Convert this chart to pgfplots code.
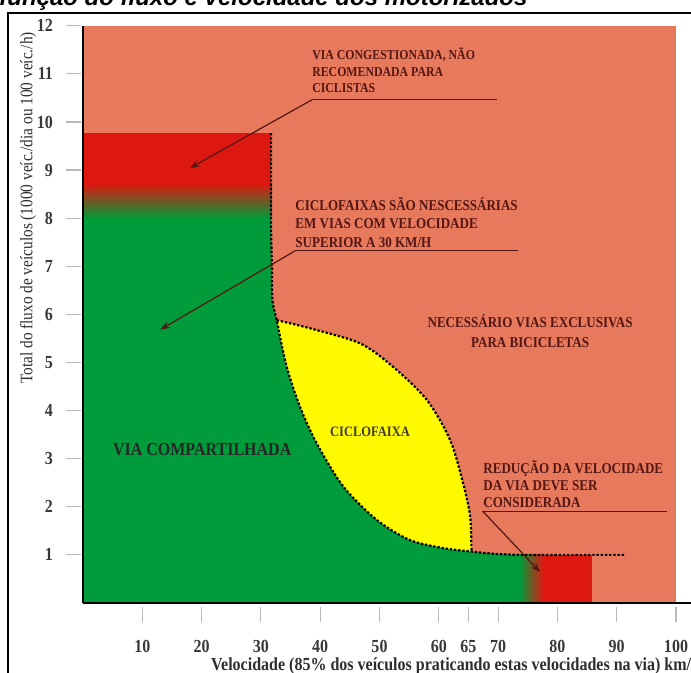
\documentclass[border=0pt]{standalone}
\usepackage{fontspec}
\setmainfont{Liberation Serif}[FakeStretch=0.87]
\newfontfamily\titlefont{Liberation Sans}
\usepackage{pgfplots}
\pgfplotsset{compat=1.18}
\usetikzlibrary{arrows.meta}

\definecolor{salmon}{RGB}{231,121,92}
\definecolor{vred}{RGB}{221,24,16}
\definecolor{vgreen}{RGB}{0,155,58}
\definecolor{vyellow}{RGB}{255,250,0}
\definecolor{txt}{RGB}{85,22,20}

\tikzset{
  note/.style={font=\bfseries\fontsize{7.5}{9}\selectfont, text=txt, inner sep=0pt, anchor=base west},
  smallnote/.style={note, font=\bfseries\fontsize{6.8}{8}\selectfont},
  pointer/.style={draw=txt, line width=0.6pt, -{Stealth[length=5pt,width=3.5pt]}},
  rule/.style={draw=txt, line width=0.6pt},
  border/.style={black, line width=1.1pt, dash pattern=on 1.2pt off 0.9pt},
}

\begin{document}
\begin{tikzpicture}
\begin{axis}[
  x=2.965pt, y=24.05pt,
  anchor=origin, at={(0,0)},
  xmin=0, xmax=102.5, ymin=0, ymax=12,
  axis x line=bottom, axis y line=left,
  axis line style={-, black, line width=0.9pt},
  axis on top,
  clip=false,
  xtick={10,20,30,40,50,60,65,70,80,90,100},
  ytick={1,2,...,12},
  tick align=outside,
  major tick length=7.5pt,
  tick style={gray!55, line width=0.6pt},
  every x tick/.append style={yshift=-2pt},
  every y tick/.append style={xshift=-1pt},
  /pgf/number format/assume math mode=true,
  ticklabel style={font=\bfseries\fontsize{9.2}{9.2}\selectfont, text=black!78},
  xticklabel style={yshift=-7.5pt},
  yticklabel style={xshift=-4pt},
  xlabel={Velocidade (85\% dos veículos praticando estas velocidades na via) km/h},
  ylabel={Total do fluxo de veículos (1000 veíc./dia ou 100 veíc./h)},
  every axis x label/.style={at={(rel axis cs:0,0)}, anchor=west, xshift=60.5pt, yshift=-31.5pt,
    font=\bfseries\fontsize{9.2}{9.2}\selectfont, text=black!82},
  every axis y label/.style={at={(rel axis cs:0,0)}, xshift=-27.5pt, yshift=197.5pt, rotate=90, anchor=center,
    font=\fontsize{8.8}{8.8}\selectfont, text=black!82},
]
% fundo
\addplot[fill=salmon, draw=none] coordinates {(0,0) (100,0) (100,12) (0,12)} -- cycle;
% ciclofaixa
\addplot[fill=vyellow, draw=none, smooth] coordinates {
  (32.66,5.88) (38.3,5.71) (46.7,5.40) (52.3,4.91) (58.0,4.22)
  (61.9,3.39) (64.1,2.49) (65.3,1.79) (65.5,1.10)} \closedcycle;
% via compartilhada
\addplot[fill=vgreen, draw=none] coordinates {(0,0) (31.75,0) (31.75,8.0) (0,8.0)} -- cycle;
\addplot[fill=vgreen, draw=none, smooth] coordinates {
  (31.7,8.0) (31.72,7.75) (31.85,7.03) (31.95,6.30) (32.66,5.88) (34.35,4.91)
  (36.59,4.08) (39.4,3.32) (43.9,2.42) (49.5,1.73) (55.1,1.31)
  (60.8,1.14) (65.5,1.07) (68.6,1.03) (73.7,1.0)} \closedcycle;
% congestionado
\addplot[draw=none, top color=vred, bottom color=vgreen] coordinates {(0,8.0) (31.75,8.0) (31.75,8.72) (0,8.72)} -- cycle;
\addplot[fill=vred, draw=none] coordinates {(0,8.7) (31.75,8.7) (31.75,9.77) (0,9.77)} -- cycle;
% reducao de velocidade
\addplot[draw=none, left color=vgreen, right color=vred] coordinates {(73.6,0) (77.6,0) (77.6,1.0) (73.6,1.0)} -- cycle;
\addplot[fill=vred, draw=none] coordinates {(77.5,0) (85.8,0) (85.8,1.0) (77.5,1.0)} -- cycle;
% limites pontilhados
\addplot[border, smooth] coordinates {
  (31.7,9.77) (31.7,8.8) (31.72,7.75) (31.85,7.03) (31.95,6.30) (32.66,5.88) (34.35,4.91)
  (36.59,4.08) (39.4,3.32) (43.9,2.42) (49.5,1.73) (55.1,1.31)
  (60.8,1.14) (65.5,1.07) (68.6,1.03) (73.7,1.0) (82,1.0) (91.4,1.0)};
\addplot[border, smooth] coordinates {
  (32.66,5.88) (38.3,5.71) (46.7,5.40) (52.3,4.91) (58.0,4.22)
  (61.9,3.39) (64.1,2.49) (65.3,1.79) (65.5,1.07)};

% notas
\node[smallnote] at (axis cs:38.6,11.30) {VIA CONGESTIONADA, NÃO};
\node[smallnote] at (axis cs:38.6,10.95) {RECOMENDADA PARA};
\node[smallnote] at (axis cs:38.6,10.62) {CICLISTAS};
\draw[rule] (axis cs:38.6,10.46) -- (axis cs:69.8,10.46);
\draw[pointer] (axis cs:38.6,10.46) -- (axis cs:18.0,9.04);

\node[note] at (axis cs:35.75,8.15) {CICLOFAIXAS SÃO NESCESSÁRIAS};
\node[note] at (axis cs:35.75,7.78) {EM VIAS COM VELOCIDADE};
\node[note] at (axis cs:35.75,7.40) {SUPERIOR A 30 KM/H};
\draw[rule] (axis cs:35.75,7.32) -- (axis cs:73.4,7.32);
\draw[pointer] (axis cs:35.75,7.32) -- (axis cs:13.0,5.68);

\node[note, anchor=base] at (axis cs:75.4,5.72) {NECESSÁRIO VIAS EXCLUSIVAS};
\node[note, anchor=base] at (axis cs:75.4,5.32) {PARA BICICLETAS};

\node[font=\bfseries\fontsize{7.2}{8}\selectfont, text=black!80!yellow!60!black] at (axis cs:48.4,3.56) {CICLOFAIXA};
\node[font=\bfseries\fontsize{9.2}{10}\selectfont, text=black!85] at (axis cs:20.1,3.18) {VIA COMPARTILHADA};

\node[note] at (axis cs:67.45,2.70) {REDUÇÃO DA VELOCIDADE};
\node[note] at (axis cs:67.45,2.33) {DA VIA DEVE SER};
\node[note] at (axis cs:67.45,1.98) {CONSIDERADA};
\draw[rule] (axis cs:67.3,1.91) -- (axis cs:98.5,1.91);
\draw[pointer] (axis cs:67.4,1.91) -- (axis cs:77.1,0.64);
\end{axis}
\draw[line width=1.1pt] (-37.5pt,-40pt) -- (-37.5pt,295pt) -- (310pt,295pt);
\node[anchor=base west, inner sep=0pt, font=\titlefont\bfseries\itshape\fontsize{12}{12}\selectfont] at (-42pt,298.5pt) {função do fluxo e velocidade dos motorizados};
\pgfresetboundingbox
\path[use as bounding box] (-41.5pt,-35pt) rectangle (304pt,301.5pt);
\end{tikzpicture}
\end{document}
